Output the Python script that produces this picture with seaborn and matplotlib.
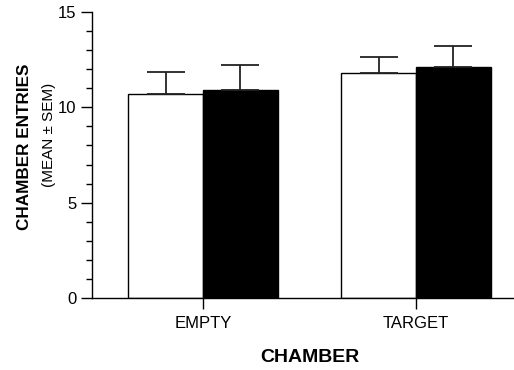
import pandas as pd
import numpy as np
import matplotlib
matplotlib.use('Agg')
import matplotlib.pyplot as plt
import matplotlib.ticker as mticker
import seaborn as sns

sns.set_style("ticks", {'axes.edgecolor': 'black', 'text.color': 'black',
                        'xtick.color': 'black', 'ytick.color': 'black',
                        'axes.labelcolor': 'black'})
plt.rcParams['font.family'] = ['Liberation Sans', 'DejaVu Sans']

chambers = ['EMPTY', 'TARGET']
groups = ['A', 'B']
means_a = [10.71, 11.81]
sems_a = [1.13, 0.81]
means_b = [10.91, 12.11]
sems_b = [1.32, 1.09]

df = pd.DataFrame({
    'chamber': chambers * 2,
    'group': [groups[0]] * 2 + [groups[1]] * 2,
    'mean': means_a + means_b,
    'sem': sems_a + sems_b,
})

fig = plt.figure(figsize=(5.14, 3.70), dpi=100)
ax = fig.add_axes([92/514, 1 - 298/370, 1 - 92/514, (298 - 12)/370])

sns.barplot(data=df, x='chamber', y='mean', hue='group', order=chambers,
            hue_order=groups, palette=['white', 'black'], edgecolor='black',
            linewidth=1.0, width=0.7, errorbar=None, legend=False, ax=ax)

# upper-only error bars
for cont, sems in zip(ax.containers, [sems_a, sems_b]):
    xs = [b.get_x() + b.get_width() / 2 for b in cont]
    ys = [b.get_height() for b in cont]
    ax.errorbar(xs, ys, yerr=[np.zeros(len(sems)), sems], fmt='none',
                ecolor='#222222', elinewidth=1.3, capsize=13.5, capthick=1.3, zorder=1)

ax.set_ylim(0, 15)
ax.set_xlim(-0.521, 1.46)
ax.set_yticks([0, 5, 10, 15])
ax.yaxis.set_minor_locator(mticker.AutoMinorLocator(5))
ax.tick_params(axis='both', which='major', length=8, width=1, labelsize=12, pad=3, color='black')
ax.tick_params(axis='y', which='minor', length=4, width=1, color='black')
ax.tick_params(axis='x', pad=5)
ax.spines[['top', 'right']].set_visible(False)
ax.spines['left'].set_linewidth(1)
ax.spines['bottom'].set_linewidth(1)
ax.set_xlabel('')
ax.set_ylabel('')

fig.text(25/514, 1 - 146.5/370, 'CHAMBER ENTRIES', rotation=90, ha='center', va='center',
         fontsize=12.3, fontweight='bold', color='black')
fig.text(49/514, 1 - 135/370, '(MEAN ± SEM)', rotation=90, ha='center', va='center',
         fontsize=11, color='black')
fig.text(310/514, 1 - 357/370, 'CHAMBER', ha='center', va='center',
         fontsize=14, fontweight='bold', color='black')

plt.savefig('out.png', dpi=100)
plt.close()
